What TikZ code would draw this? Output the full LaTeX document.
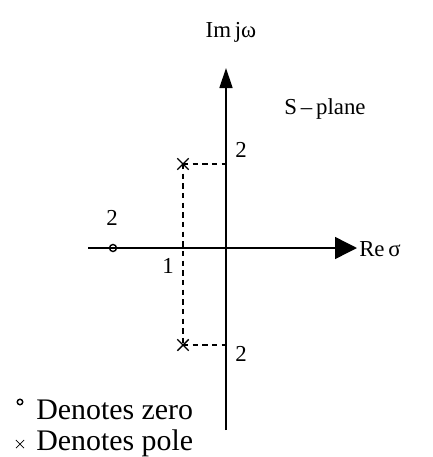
\documentclass[tikz,border=0pt]{standalone}
\usepackage{fontspec}
\setmainfont{Liberation Serif}
\usetikzlibrary{arrows.meta, shapes.misc}

\begin{document}
\begin{tikzpicture}[x=0.02cm, y=-0.02cm,
                    axis/.style={-{Triangle[length=4.4mm, width=4.4mm]}, thick},
                    imaxis/.style={-{Triangle[length=4mm, width=2.6mm]}, thick},
                    guide/.style={dash pattern=on 3pt off 2.5pt, thick},
                    pole/.style={cross out, draw, thick, minimum size=2mm, inner sep=0pt},
                    zero/.style={circle, draw, thick, minimum size=1.4mm, inner sep=0pt},
                    lbl/.style={font=\fontsize{13}{15}\selectfont, inner sep=0pt},
                    legend/.style={font=\fontsize{17}{20}\selectfont, inner sep=0pt, anchor=west}]

            \useasboundingbox (0,0) rectangle (433,457);

            % axes
            \coordinate (re_left)  at (88,248);
            \coordinate (re_right) at (357,248);
            \coordinate (im_bot)   at (226,430);
            \coordinate (im_top)   at (226,68);
            \coordinate (origin)   at (226,248);

            \draw[axis] (re_left) -- (re_right);
            \draw[imaxis] (im_bot) -- (im_top);

            \node[lbl] (re_lbl) at (380,249) {Re\,σ};
            \node[lbl] (im_lbl) at (231,32) {Im\,jω};
            \node[lbl] (plane)  at (325,109) {S\,–\,plane};

            % poles and zero
            \node[pole] (p1) at (183,164) {};
            \node[pole] (p2) at (183,345) {};
            \node[zero] (z1) at (113,248) {};

            \coordinate (p1_im) at (226,164);
            \coordinate (p2_im) at (226,345);

            \draw[guide] (p1.center) -- (p1_im);
            \draw[guide] (p2.center) -- (p2_im);
            \draw[guide] (p1.center) -- (p2.center);

            \node[lbl] (z1_val) at (112,218) {2};
            \node[lbl] (re_val) at (168,266) {1};
            \node[lbl] (p1_val) at (241,150) {2};
            \node[lbl] (p2_val) at (241,354) {2};

            % legend
            \node[zero, minimum size=1.1mm] (lz) at (20,402) {};
            \node[legend] (lz_txt) at (36,410) {Denotes zero};
            \node[pole, minimum size=1.5mm, thin] (lp) at (20,444) {};
            \node[legend] (lp_txt) at (36,443) {Denotes pole};
        \end{tikzpicture}
\end{document}
